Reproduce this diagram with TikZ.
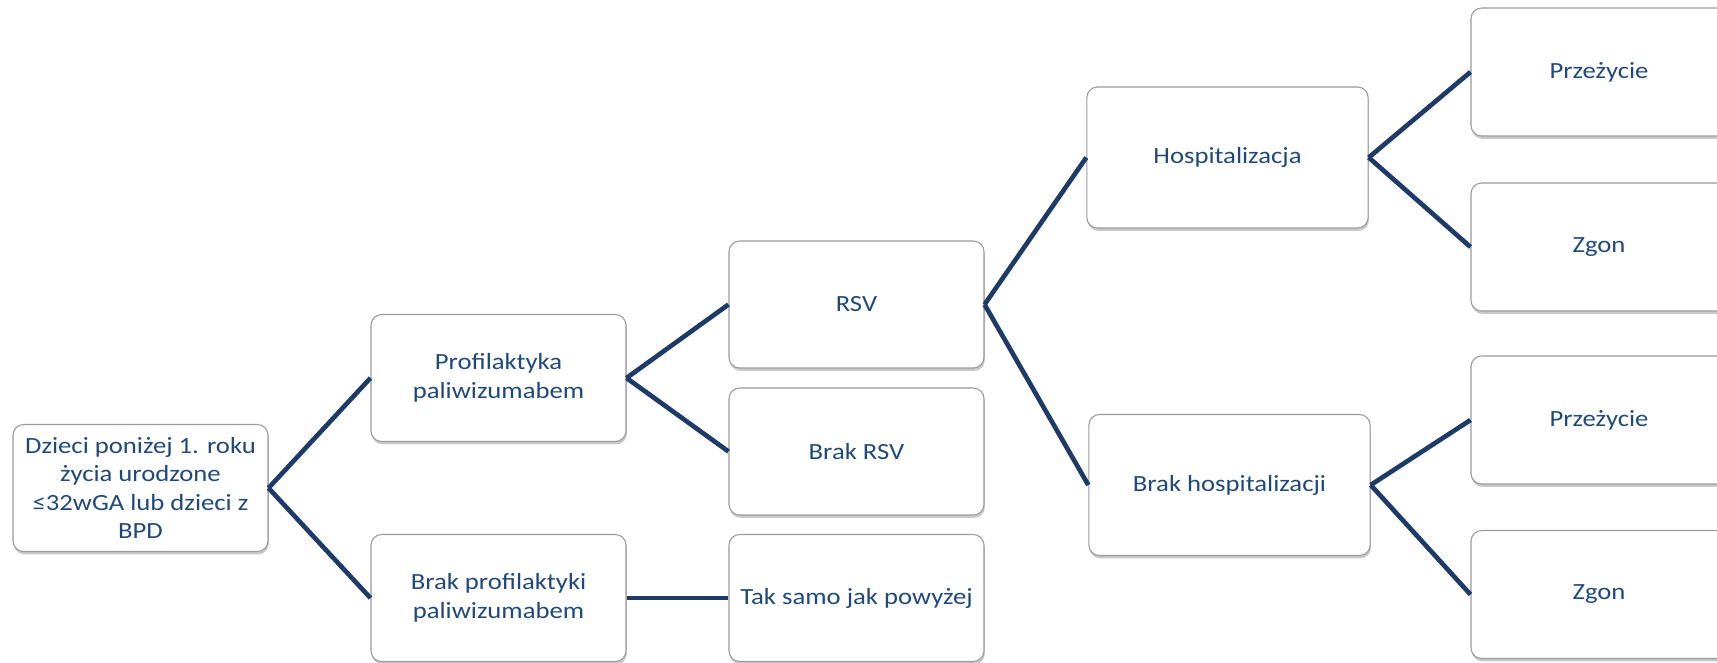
\documentclass[tikz,border=0pt]{standalone}
\usepackage{fontspec}
\setmainfont{Carlito}[FakeStretch=1.15]
\usetikzlibrary{shadows}
\definecolor{linec}{HTML}{1E3A68}
\definecolor{textc}{HTML}{1F497D}
\definecolor{borderc}{HTML}{9A9A9A}
\tikzset{
 box/.style={draw=borderc, line width=0.8pt, fill=white, rounded corners=8pt,
   minimum width=191.25pt, minimum height=95.25pt, align=center, text=textc,
   font=\fontsize{17.4pt}{21.3pt}\selectfont, inner sep=2pt,
   drop shadow={shadow xshift=0.6pt, shadow yshift=-2.2pt, opacity=0.3, fill=black!70}},
 bigbox/.style={box, minimum width=211pt, minimum height=105.75pt},
 endbox/.style={box, minimum width=192pt, minimum height=96pt},
 conn/.style={draw=linec, line width=3.5pt},
}
\begin{document}
\begin{tikzpicture}[x=0.75pt,y=-0.75pt]
\useasboundingbox (0,0) rectangle (1717,662);
\node[box] (root) at (140.5,488) {Dzieci poniżej 1. roku\\życia urodzone\\≤32wGA lub dzieci z\\BPD};
\node[box] (prof) at (498.5,378) {Profilaktyka\\paliwizumabem};
\node[box] (brakprof) at (498.5,598) {Brak profilaktyki\\paliwizumabem};
\node[box] (rsv) at (856.5,304.5) {RSV};
\node[box] (brakrsv) at (856.5,451.5) {Brak RSV};
\node[box] (tak) at (856.5,598) {Tak samo jak powyżej};
\node[bigbox] (hosp) at (1227.5,157.5) {Hospitalizacja};
\node[bigbox] (brakhosp) at (1229.5,485) {Brak hospitalizacji};
\node[endbox] (p1) at (1599,72) {Przeżycie};
\node[endbox] (z1) at (1599,247) {Zgon};
\node[endbox] (p2) at (1599,420) {Przeżycie};
\node[endbox] (z2) at (1599,594.5) {Zgon};
\draw[conn] (root.east) -- (prof.west);
\draw[conn] (root.east) -- (brakprof.west);
\draw[conn] (prof.east) -- (rsv.west);
\draw[conn] (prof.east) -- (brakrsv.west);
\draw[conn] (brakprof.east) -- (tak.west);
\draw[conn] (rsv.east) -- (hosp.west);
\draw[conn] (rsv.east) -- (brakhosp.west);
\draw[conn] (hosp.east) -- (p1.west);
\draw[conn] (hosp.east) -- (z1.west);
\draw[conn] (brakhosp.east) -- (p2.west);
\draw[conn] (brakhosp.east) -- (z2.west);
\end{tikzpicture}
\end{document}
